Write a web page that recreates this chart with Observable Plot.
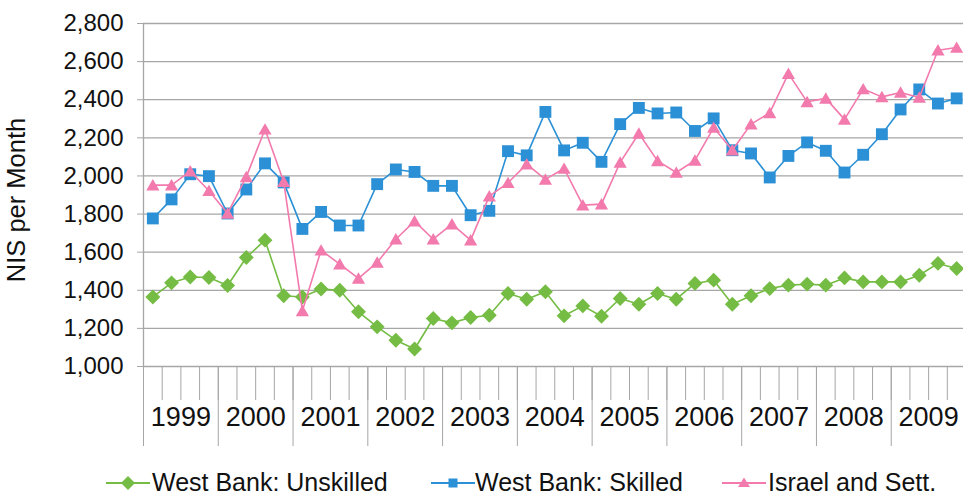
<!DOCTYPE html>
<html>
<head>
<meta charset="utf-8">
<script src="https://cdn.jsdelivr.net/npm/d3@7"></script>
<script src="https://cdn.jsdelivr.net/npm/@observablehq/plot@0.6"></script>
<style>
  body { margin: 0; background: #fff; font-family: "Liberation Sans", Arial, sans-serif; }
  #wrap { position: relative; width: 963px; }
  #legend { position: relative; height: 41px; font-size: 25px; color: #111; }
  .item { position: absolute; top: 0; height: 41px; display: flex; align-items: center; white-space: nowrap; }
  .item svg { display: block; }
</style>
</head>
<body>
<div id="wrap"><div id="chart"></div><div id="legend"></div></div>
<script>
const years = ["1999","2000","2001","2002","2003","2004","2005","2006","2007","2008","2009"];
const yTicks = [1000,1200,1400,1600,1800,2000,2200,2400,2600,2800];
const seriesNames = ["West Bank: Unskilled", "West Bank: Skilled", "Israel and Sett."];
const seriesColors = ["#74bc43", "#2b90d5", "#f27aad"];
const seriesSymbols = ["diamond2", "square", "triangle"];

// quarterly values, 1999 Q1 ... 2009 Q4
const unskilled = [1365,1439,1470,1467, 1425,1572,1663,1371, 1365,1407,1400,1287,
  1208,1138,1092,1252, 1229,1257,1269,1383, 1353,1392,1266,1318, 1264,1357,1327,1383,
  1353,1436,1453,1327, 1371,1409,1427,1432, 1427,1465,1444,1444, 1444,1479,1541,1514];
const skilled = [1777,1877,2009,1999, 1803,1929,2066,1966, 1722,1811,1740,1740,
  1957,2034,2021,1948, 1948,1794,1817,2130, 2108,2336,2134,2174, 2074,2272,2357,2328,
  2333,2236,2302,2135, 2118,1992,2105,2176, 2132,2018,2111,2219, 2349,2454,2380,2407];
const israel = [1952,1952,2025,1922, 1803,1995,2245,1970, 1292,1610,1537,1462,
  1546,1668,1763,1668, 1747,1663,1894,1964, 2062,1982,2039,1847, 1852,2071,2223,2079,
  2018,2082,2254,2135, 2272,2331,2537,2389, 2407,2297,2456,2415, 2438,2412,2660,2674];

const seriesValues = [unskilled, skilled, israel];
const nQ = years.length * 4;
const data = seriesValues.map((vals, s) => vals.map((v, i) => ({q: i + 0.5, v, s})));

const grey = "#a6a6a6";
const ink = "#111";
const quarterBounds = d3.range(0, nQ);
const yearBounds = d3.range(0, nQ, 4);
const yearMids = years.map((y, i) => i * 4 + 2);

const marks = [
  Plot.gridY(yTicks, {stroke: grey, strokeOpacity: 1, strokeWidth: 1.3}),
  Plot.axisY(yTicks, {tickSize: 6, tickPadding: 14, tickFormat: d3.format(","), fontSize: 24, stroke: grey, fill: ink, label: null}),
  Plot.ruleX([0], {stroke: grey, strokeWidth: 1.3}),
  Plot.axisX(quarterBounds, {tickSize: 34, tickFormat: () => "", stroke: grey, label: null}),
  Plot.axisX(yearBounds, {tickSize: 80, tickFormat: () => "", stroke: grey, label: null}),
  Plot.axisX(yearMids, {tickSize: 0, tickPadding: 40, tickFormat: d => years[(d - 2) / 4], fontSize: 27, fill: ink, label: null}),
  Plot.text(["NIS per Month"], {frameAnchor: "left", textAnchor: "middle", lineAnchor: "middle", rotate: -90, dx: -127, dy: 5, fontSize: 25.5, fill: ink})
];
data.forEach((d, s) => {
  marks.push(Plot.line(d, {x: "q", y: "v", stroke: seriesColors[s], strokeWidth: 1.6}));
  marks.push(Plot.dot(d, {x: "q", y: "v", symbol: seriesSymbols[s], r: s === 2 ? 4.9 : 6.7, fill: seriesColors[s], stroke: "none", dy: s === 2 ? 1.5 : 0}));
});

const chart = Plot.plot({
  width: 963,
  height: 462,
  marginTop: 23,
  marginBottom: 96,
  marginLeft: 143,
  marginRight: 0,
  style: {fontFamily: "'Liberation Sans', Arial, sans-serif", background: "#fff", overflow: "visible"},
  x: {domain: [0, nQ], range: [143, 965.5], axis: null},
  y: {domain: [1000, 2800], axis: null},
  marks
});
document.getElementById("chart").appendChild(chart);

// legend
const legend = document.getElementById("legend");
const lefts = [106, 431, 722];
const symbolSvg = [
  c => `<path d="M22,3 L29,10 L22,17 L15,10Z" fill="${c}"/>`,
  c => `<rect x="17.5" y="5.5" width="9" height="9" fill="${c}"/>`,
  c => `<path d="M22,4.5 L28,14 L16,14Z" fill="${c}"/>`
];
seriesNames.forEach((name, s) => {
  const item = document.createElement("div");
  item.className = "item";
  item.style.left = lefts[s] + "px";
  item.innerHTML = `<svg width="44" height="20"><line x1="0" x2="44" y1="10" y2="10" stroke="${seriesColors[s]}" stroke-width="2"/>${symbolSvg[s](seriesColors[s])}</svg><span style="margin-left:${s === 1 ? 0 : 2}px">${name}</span>`;
  legend.appendChild(item);
});
</script>
</body>
</html>
